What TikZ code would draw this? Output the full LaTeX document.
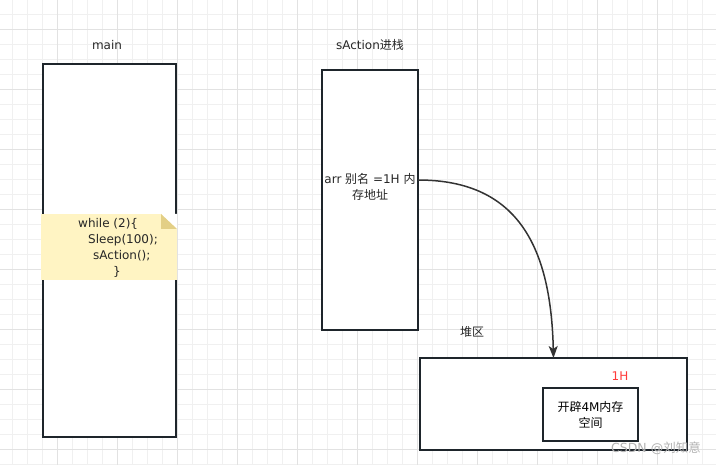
\documentclass[tikz,border=0pt]{standalone}
\usepackage{fontspec}
\setmainfont{DejaVu Sans}
\newfontfamily\cjk{Noto Sans CJK SC}
\usetikzlibrary{arrows.meta,positioning}
\definecolor{ink}{HTML}{1E252B}
\definecolor{wire}{HTML}{333333}
\definecolor{gridminor}{HTML}{F0F0F0}
\definecolor{gridmajor}{HTML}{E2E2E2}
\definecolor{notefill}{HTML}{FFF4C3}
\definecolor{notefold}{HTML}{E3CF86}
\definecolor{hot}{HTML}{FF3B3B}

\begin{document}
\begin{tikzpicture}[x=1pt,y=-1pt,
  font=\fontsize{12}{16}\selectfont,
  frame/.style={draw=ink,line width=1.6pt,fill=white,rectangle,
    inner sep=0pt,outer sep=0pt},
  caption/.style={text=black!85,inner sep=0pt},
  pointer/.style={-{Stealth[length=12pt,width=9pt,inset=3pt]},line width=1.5pt,draw=wire},
  memo/.style={fill=notefill,rectangle,inner sep=0pt,outer sep=0pt}
]
\useasboundingbox (0,0) rectangle (716,465);

% background grid
\foreach \gx in {0,...,47} \draw[gridminor,line width=0.8pt] (12.3+15*\gx,0) -- (12.3+15*\gx,465);
\foreach \gy in {0,...,30} \draw[gridminor,line width=0.8pt] (0,14.7+15*\gy) -- (716,14.7+15*\gy);
\foreach \gx in {0,...,11} \draw[gridmajor,line width=0.8pt] (57.3+60*\gx,0) -- (57.3+60*\gx,465);
\foreach \gy in {0,...,7} \draw[gridmajor,line width=0.8pt] (0,29.7+60*\gy) -- (716,29.7+60*\gy);

% main thread
\node[caption] (mainlbl) at (107,45) {main};
\node[frame,minimum width=133,minimum height=373] (mainbox) at (109.5,250.5) {};
\node[memo,minimum width=136,minimum height=66] (note) at (109,247) {};
\fill[white] (note.north east) ++(-16,0) -- (note.north east) -- ++(0,15) -- cycle;
\fill[notefold] (note.north east) ++(-16,0) -- ++(16,15) -- ++(-16,0) -- cycle;
\node[caption,align=left,anchor=west] (loop) at (78,248)
  {while (2)\{\\\hspace*{10pt}Sleep(100);\\\hspace*{15pt}sAction();\\\hspace*{35pt}\}};

% stack of sAction
\node[caption] (stacklbl) at (370,45) {sAction{\cjk 进栈}};
\node[frame,minimum width=96,minimum height=260] (stackbox) at (370,200) {};
\node[caption,align=center] (arrtext) at (370,187) {arr {\cjk 别名} =1H {\cjk 内}\\{\cjk 存地址}};
\coordinate (ptr) at (stackbox.east |- 0,180);

% heap
\node[caption] (heaplbl) at (472,332) {\cjk 堆区};
\node[frame,minimum width=267,minimum height=92] (heapbox) at (553.5,404) {};
\node[caption,text=hot] (addr) at (620,376) {1H};
\node[frame,minimum width=95,minimum height=53,align=center] (block) at (590.5,414.5)
  {{\cjk 开辟}4M{\cjk 内存}\\{\cjk 空间}};

\draw[pointer] (ptr) .. controls (520,180) and (551,250) .. (heapbox.north);

\node[caption,text=black!30,font=\fontsize{12.5}{14}\selectfont] (mark) at (656,448) {CSDN @{\cjk 刘知意}};
\end{tikzpicture}
\end{document}
